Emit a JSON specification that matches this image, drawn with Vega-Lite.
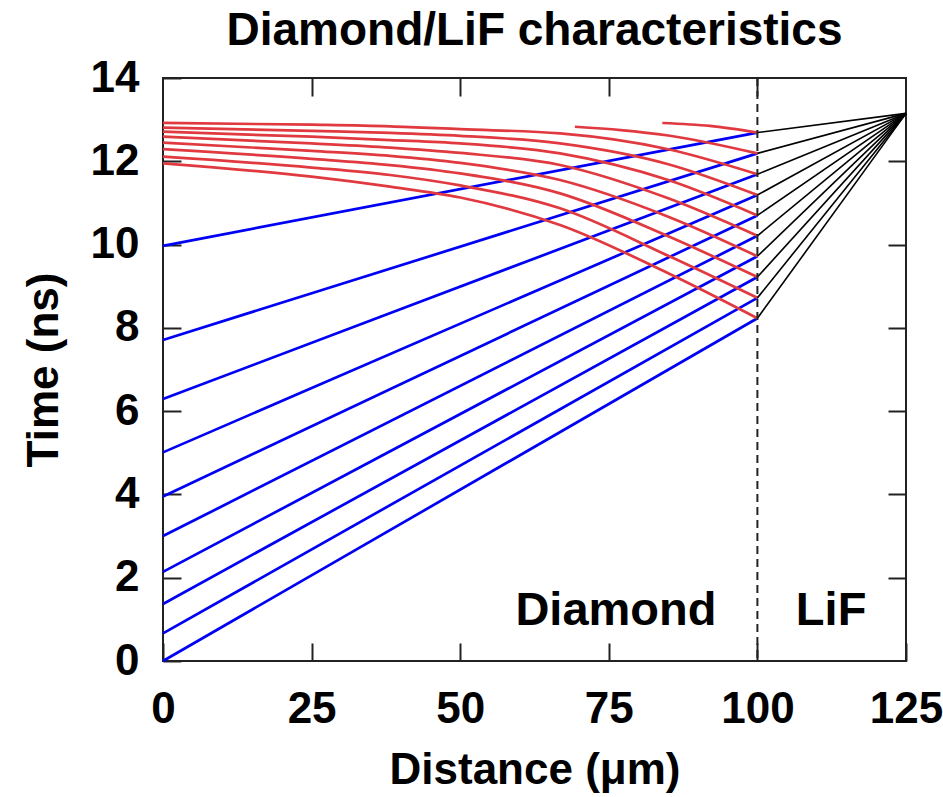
{
  "$schema": "https://vega.github.io/schema/vega-lite/v6.json",
  "width": 743,
  "height": 583,
  "autosize": {"type": "none"},
  "padding": {"left": 163, "top": 78, "right": 37, "bottom": 136},
  "background": "white",
  "title": {"text": "Diamond/LiF characteristics", "fontSize": 46, "fontWeight": "bold", "font": "Liberation Sans", "anchor": "middle", "offset": 1, "color": "#000"},
  "config": {
    "font": "Liberation Sans",
    "view": {"stroke": "#222", "strokeWidth": 2},
    "axis": {"grid": false, "domain": false, "tickColor": "#222", "tickWidth": 2, "tickSize": -18, "labelFlush": false, "labelFont": "Liberation Sans", "labelFontWeight": "bold", "labelFontSize": 44, "labelColor": "#000", "titleFont": "Liberation Sans", "titleFontWeight": "bold", "titleFontSize": 44, "titleColor": "#000"}
  },
  "datasets": {
    "lines": [
      {"s": "blue", "id": "b1", "x": 0, "t": 0}, {"s": "blue", "id": "b1", "x": 100, "t": 8.23},
      {"s": "blue", "id": "b2", "x": 0, "t": 0.665}, {"s": "blue", "id": "b2", "x": 100, "t": 8.72},
      {"s": "blue", "id": "b3", "x": 0, "t": 1.37}, {"s": "blue", "id": "b3", "x": 100, "t": 9.22},
      {"s": "blue", "id": "b4", "x": 0, "t": 2.14}, {"s": "blue", "id": "b4", "x": 100, "t": 9.72},
      {"s": "blue", "id": "b5", "x": 0, "t": 3.0}, {"s": "blue", "id": "b5", "x": 100, "t": 10.21},
      {"s": "blue", "id": "b6", "x": 0, "t": 3.95}, {"s": "blue", "id": "b6", "x": 100, "t": 10.70},
      {"s": "blue", "id": "b7", "x": 0, "t": 5.01}, {"s": "blue", "id": "b7", "x": 100, "t": 11.19},
      {"s": "blue", "id": "b8", "x": 0, "t": 6.29}, {"s": "blue", "id": "b8", "x": 100, "t": 11.69},
      {"s": "blue", "id": "b9", "x": 0, "t": 7.71}, {"s": "blue", "id": "b9", "x": 100, "t": 12.19},
      {"s": "blue", "id": "b10", "x": 0, "t": 9.97}, {"s": "blue", "id": "b10", "x": 100, "t": 12.69},

      {"s": "black", "id": "k1", "x": 100, "t": 8.23}, {"s": "black", "id": "k1", "x": 125, "t": 13.15},
      {"s": "black", "id": "k2", "x": 100, "t": 8.72}, {"s": "black", "id": "k2", "x": 125, "t": 13.15},
      {"s": "black", "id": "k3", "x": 100, "t": 9.22}, {"s": "black", "id": "k3", "x": 125, "t": 13.15},
      {"s": "black", "id": "k4", "x": 100, "t": 9.72}, {"s": "black", "id": "k4", "x": 125, "t": 13.15},
      {"s": "black", "id": "k5", "x": 100, "t": 10.21}, {"s": "black", "id": "k5", "x": 125, "t": 13.15},
      {"s": "black", "id": "k6", "x": 100, "t": 10.70}, {"s": "black", "id": "k6", "x": 125, "t": 13.15},
      {"s": "black", "id": "k7", "x": 100, "t": 11.19}, {"s": "black", "id": "k7", "x": 125, "t": 13.15},
      {"s": "black", "id": "k8", "x": 100, "t": 11.69}, {"s": "black", "id": "k8", "x": 125, "t": 13.15},
      {"s": "black", "id": "k9", "x": 100, "t": 12.19}, {"s": "black", "id": "k9", "x": 125, "t": 13.15},
      {"s": "black", "id": "k10", "x": 100, "t": 12.69}, {"s": "black", "id": "k10", "x": 125, "t": 13.15},

      {"s": "red", "id": "r1", "x": 84, "t": 12.92}, {"s": "red", "id": "r1", "x": 92, "t": 12.85}, {"s": "red", "id": "r1", "x": 100, "t": 12.69},
      {"s": "red", "id": "r2", "x": 69.3, "t": 12.83}, {"s": "red", "id": "r2", "x": 77, "t": 12.75}, {"s": "red", "id": "r2", "x": 85, "t": 12.62}, {"s": "red", "id": "r2", "x": 100, "t": 12.19},
      {"s": "red", "id": "r3", "x": 0, "t": 12.92}, {"s": "red", "id": "r3", "x": 25, "t": 12.88}, {"s": "red", "id": "r3", "x": 38.2, "t": 12.84}, {"s": "red", "id": "r3", "x": 50, "t": 12.77}, {"s": "red", "id": "r3", "x": 66.8, "t": 12.67}, {"s": "red", "id": "r3", "x": 85, "t": 12.29}, {"s": "red", "id": "r3", "x": 100, "t": 11.69},
      {"s": "red", "id": "r4", "x": 0, "t": 12.81}, {"s": "red", "id": "r4", "x": 25, "t": 12.73}, {"s": "red", "id": "r4", "x": 38.2, "t": 12.68}, {"s": "red", "id": "r4", "x": 50, "t": 12.61}, {"s": "red", "id": "r4", "x": 66.8, "t": 12.43}, {"s": "red", "id": "r4", "x": 85, "t": 11.93}, {"s": "red", "id": "r4", "x": 100, "t": 11.19},
      {"s": "red", "id": "r5", "x": 0, "t": 12.71}, {"s": "red", "id": "r5", "x": 25, "t": 12.59}, {"s": "red", "id": "r5", "x": 38.2, "t": 12.51}, {"s": "red", "id": "r5", "x": 50, "t": 12.43}, {"s": "red", "id": "r5", "x": 66.8, "t": 12.19}, {"s": "red", "id": "r5", "x": 85, "t": 11.55}, {"s": "red", "id": "r5", "x": 100, "t": 10.70},
      {"s": "red", "id": "r6", "x": 0, "t": 12.59}, {"s": "red", "id": "r6", "x": 25, "t": 12.43}, {"s": "red", "id": "r6", "x": 38.2, "t": 12.33}, {"s": "red", "id": "r6", "x": 50, "t": 12.20}, {"s": "red", "id": "r6", "x": 66.8, "t": 11.91}, {"s": "red", "id": "r6", "x": 85, "t": 11.11}, {"s": "red", "id": "r6", "x": 100, "t": 10.21},
      {"s": "red", "id": "r7", "x": 0, "t": 12.45}, {"s": "red", "id": "r7", "x": 25, "t": 12.25}, {"s": "red", "id": "r7", "x": 38.2, "t": 12.13}, {"s": "red", "id": "r7", "x": 50, "t": 11.96}, {"s": "red", "id": "r7", "x": 66.8, "t": 11.55}, {"s": "red", "id": "r7", "x": 85, "t": 10.67}, {"s": "red", "id": "r7", "x": 100, "t": 9.72},
      {"s": "red", "id": "r8", "x": 0, "t": 12.29}, {"s": "red", "id": "r8", "x": 25, "t": 12.06}, {"s": "red", "id": "r8", "x": 38.2, "t": 11.91}, {"s": "red", "id": "r8", "x": 50, "t": 11.71}, {"s": "red", "id": "r8", "x": 66.8, "t": 11.23}, {"s": "red", "id": "r8", "x": 85, "t": 10.20}, {"s": "red", "id": "r8", "x": 100, "t": 9.22},
      {"s": "red", "id": "r9", "x": 0, "t": 12.11}, {"s": "red", "id": "r9", "x": 25, "t": 11.85}, {"s": "red", "id": "r9", "x": 38.2, "t": 11.67}, {"s": "red", "id": "r9", "x": 50, "t": 11.42}, {"s": "red", "id": "r9", "x": 66.8, "t": 10.87}, {"s": "red", "id": "r9", "x": 85, "t": 9.73}, {"s": "red", "id": "r9", "x": 100, "t": 8.72},
      {"s": "red", "id": "r10", "x": 0, "t": 11.95}, {"s": "red", "id": "r10", "x": 25, "t": 11.63}, {"s": "red", "id": "r10", "x": 38.2, "t": 11.39}, {"s": "red", "id": "r10", "x": 50, "t": 11.13}, {"s": "red", "id": "r10", "x": 66.8, "t": 10.47}, {"s": "red", "id": "r10", "x": 85, "t": 9.31}, {"s": "red", "id": "r10", "x": 100, "t": 8.23}
    ],
    "boundary": [{"x": 100}],
    "labels": [{"label": "Diamond", "x": 76.2, "t": 1.2}, {"label": "LiF", "x": 112.4, "t": 1.2}]
  },
  "resolve": {"axis": {"x": "independent", "y": "independent"}},
  "layer": [
    {
      "data": {"name": "lines"},
      "transform": [{"filter": "datum.s === 'blue'"}],
      "mark": {"type": "line", "color": "#0000f5", "strokeWidth": 2.7},
      "encoding": {
        "x": {"field": "x", "type": "quantitative", "scale": {"domain": [0, 125], "nice": false}, "axis": {"orient": "bottom", "values": [0, 25, 50, 75, 100, 125], "labelPadding": 44, "title": "Distance (μm)", "titlePadding": 17}},
        "y": {"field": "t", "type": "quantitative", "scale": {"domain": [0, 14], "nice": false}, "axis": {"orient": "left", "values": [0, 2, 4, 6, 8, 10, 12, 14], "labelPadding": 42, "title": "Time (ns)", "titlePadding": 24}},
        "detail": {"field": "id"}
      }
    },
    {
      "data": {"name": "lines"},
      "transform": [{"filter": "datum.s === 'red'"}],
      "mark": {"type": "line", "color": "#e03a40", "strokeWidth": 2.7, "interpolate": "monotone"},
      "encoding": {
        "x": {"field": "x", "type": "quantitative", "axis": null},
        "y": {"field": "t", "type": "quantitative", "axis": null},
        "detail": {"field": "id"}
      }
    },
    {
      "data": {"name": "lines"},
      "transform": [{"filter": "datum.s === 'black'"}],
      "mark": {"type": "line", "color": "#000000", "strokeWidth": 1.6},
      "encoding": {
        "x": {"field": "x", "type": "quantitative", "axis": {"orient": "top", "values": [25, 50, 75, 100], "labels": false, "title": null}},
        "y": {"field": "t", "type": "quantitative", "axis": {"orient": "right", "values": [2, 4, 6, 8, 10, 12], "labels": false, "title": null}},
        "detail": {"field": "id"}
      }
    },
    {
      "data": {"name": "boundary"},
      "mark": {"type": "rule", "color": "#222", "strokeWidth": 2, "strokeDash": [8, 5]},
      "encoding": {
        "x": {"field": "x", "type": "quantitative", "axis": null}
      }
    },
    {
      "data": {"name": "labels"},
      "mark": {"type": "text", "font": "Liberation Sans", "fontWeight": "bold", "fontSize": 47, "align": "center", "baseline": "middle", "color": "#000"},
      "encoding": {
        "x": {"field": "x", "type": "quantitative", "axis": null},
        "y": {"field": "t", "type": "quantitative", "axis": null},
        "text": {"field": "label"}
      }
    }
  ]
}
